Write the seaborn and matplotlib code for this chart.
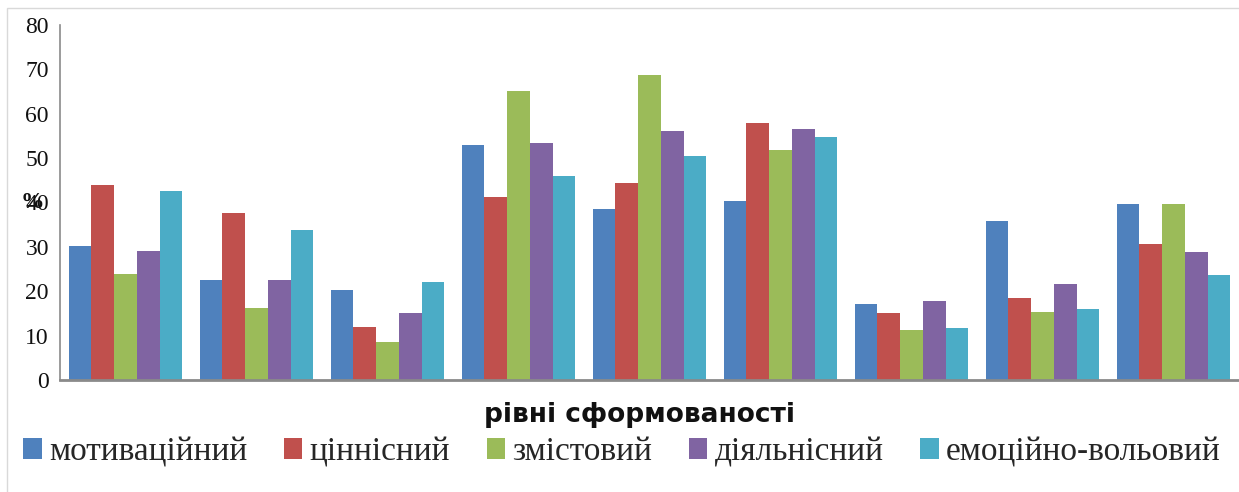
import matplotlib
matplotlib.use("Agg")
import matplotlib.pyplot as plt
from matplotlib.patches import Rectangle
import seaborn as sns
import pandas as pd

# Levels along the x axis (not labelled on the chart)
groups = ["1", "2", "3", "4", "5", "6", "7", "8", "9"]

components = ["мотиваційний", "ціннісний", "змістовий", "діяльнісний", "емоційно-вольовий"]

motyvatsiinyi = [30.2, 22.5, 20.2, 52.9, 38.5, 40.3, 17.1, 35.8, 39.6]
tsinnisnyi = [43.9, 37.6, 11.9, 41.2, 44.4, 57.9, 15.1, 18.5, 30.6]
zmistovyi = [23.9, 16.2, 8.6, 65.1, 68.7, 51.8, 11.3, 15.3, 39.6]
diialnisnyi = [29.1, 22.5, 15.0, 53.4, 56.1, 56.5, 17.8, 21.6, 28.8]
emotsiino_volovyi = [42.6, 33.8, 22.1, 45.9, 50.5, 54.7, 11.7, 16.0, 23.6]

yticks = [0, 10, 20, 30, 40, 50, 60, 70, 80]

palette = ["#4F81BD", "#C0504D", "#9BBB59", "#8064A2", "#4BACC6"]

series = [motyvatsiinyi, tsinnisnyi, zmistovyi, diialnisnyi, emotsiino_volovyi]
rows = []
for name, vals in zip(components, series):
    for g, v in zip(groups, vals):
        rows.append({"group": g, "component": name, "value": v})
df = pd.DataFrame(rows)

sns.set_theme(style="white")
plt.rcParams["font.family"] = ["Liberation Serif", "DejaVu Serif"]

fig = plt.figure(figsize=(12.39, 4.92), dpi=100)
ax = fig.add_axes([60 / 1239, 1 - 380 / 492, 1179 / 1239, 355 / 492])

sns.barplot(data=df, x="group", y="value", hue="component", order=groups,
            hue_order=components, palette=palette, width=0.87, gap=0,
            saturation=1, errorbar=None, ax=ax, legend=True,
            linewidth=0, edgecolor="none")

ax.set_xlim(-0.5, len(groups) - 0.5)
ax.set_ylim(0, 80)
ax.set_yticks(yticks)
ax.set_yticklabels([str(t) for t in yticks], fontsize=17, color="#111111")
ax.set_xticks([])
ax.tick_params(axis="y", length=0, pad=8)
ax.set_xlabel("")
ax.set_ylabel("")

for side in ("top", "right"):
    ax.spines[side].set_visible(False)
ax.spines["left"].set_color("#8a8a8a")
ax.spines["left"].set_linewidth(1.2)
ax.spines["bottom"].set_color("#8a8a8a")
ax.spines["bottom"].set_linewidth(2.0)

# percent sign next to the y axis
fig.text(32 / 1239, 1 - 203 / 492, "%", fontsize=17, fontweight="bold",
         ha="center", va="center", color="#111111")

# x axis title
fig.text(639 / 1239, 1 - 415 / 492, "рівні сформованості", fontsize=19,
         fontweight="bold", family=["DejaVu Sans"], ha="center", va="center",
         color="#111111")

handles, labels = ax.get_legend_handles_labels()
ax.get_legend().remove()
fig.legend(handles, labels, loc="center", bbox_to_anchor=(622 / 1239, 1 - 452 / 492),
           ncol=5, frameon=False, fontsize=24, handlelength=0.55, handleheight=0.55,
           handletextpad=0.22, columnspacing=1.1, borderaxespad=0)

# outer chart frame
fig.patches.append(Rectangle((7 / 1239, -0.1), 1.2, 1 - 8 / 492 + 0.1,
                             transform=fig.transFigure, fill=False,
                             edgecolor="#d9d9d9", linewidth=1.0))

fig.savefig("out.png", dpi=100, facecolor="white")
